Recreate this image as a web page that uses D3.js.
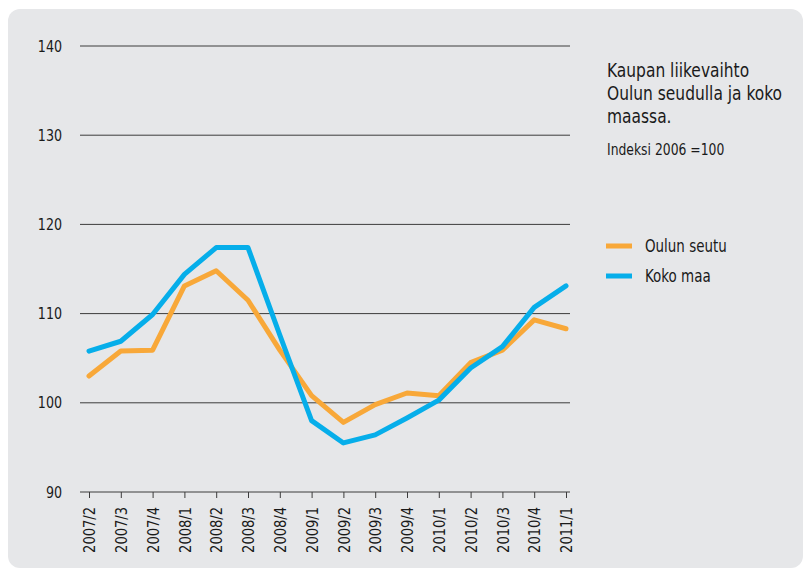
<!DOCTYPE html>
<html>
<head>
<meta charset="utf-8">
<script src="https://cdn.jsdelivr.net/npm/d3@7/dist/d3.min.js"></script>
<style>
  body { margin: 0; background: #fff; }
  svg text { font-family: "DejaVu Sans Condensed", "Roboto", sans-serif; fill: #1a1a1a; }
</style>
</head>
<body>
<script>
// quarters on the x axis
var quarters = ["2007/2","2007/3","2007/4","2008/1","2008/2","2008/3","2008/4",
    "2009/1","2009/2","2009/3","2009/4","2010/1","2010/2","2010/3","2010/4","2011/1"];
// Oulun seutu
var oulu = [103.0,105.8,105.9,113.1,114.8,111.5,105.9,100.8,97.8,99.8,101.1,100.8,104.5,105.9,109.3,108.3];
// Koko maa
var kokoMaa = [105.8,106.9,109.9,114.4,117.4,117.4,107.6,98.0,95.5,96.4,98.3,100.3,103.9,106.3,110.7,113.1];
var yTicks = [90,100,110,120,130,140];
var titleLines = ["Kaupan liikevaihto", "Oulun seudulla ja koko", "maassa."];

var width = 808, height = 574;
var narrow = 0.88; // squeeze text to look like a condensed face

var svg = d3.select("body").append("svg")
    .attr("width", width)
    .attr("height", height);

// grey panel
svg.append("rect")
    .attr("x", 8).attr("y", 9)
    .attr("width", 795).attr("height", 559)
    .attr("rx", 12)
    .attr("fill", "#e6e7e9");

var x = d3.scalePoint()
    .domain(quarters)
    .range([89, 566]);

var y = d3.scaleLinear()
    .domain([90, 140])
    .range([492, 46]);

// horizontal grid lines + labels
var grid = svg.append("g");
grid.selectAll("line")
    .data(yTicks)
    .enter().append("line")
    .attr("x1", 80).attr("x2", 570)
    .attr("y1", function(d) { return y(d); })
    .attr("y2", function(d) { return y(d); })
    .attr("stroke", "#3c3c3c")
    .attr("stroke-width", 1);

grid.selectAll("text")
    .data(yTicks)
    .enter().append("text")
    .attr("transform", function(d) { return "translate(62," + y(d) + ") scale(" + narrow + ",1)"; })
    .attr("dy", "0.35em")
    .attr("text-anchor", "end")
    .attr("font-size", 16)
    .text(function(d) { return d; });

// x axis ticks and rotated labels
var xAxis = svg.append("g")
    .attr("transform", "translate(0," + y(90) + ")")
    .call(d3.axisBottom(x).tickSize(6).tickFormat(function(d) { return d; }));
xAxis.select(".domain").remove();
xAxis.selectAll(".tick line").attr("stroke", "#3c3c3c");
xAxis.selectAll(".tick text")
    .attr("transform", "rotate(-90) scale(" + narrow + ",1)")
    .attr("x", -15 / narrow).attr("y", 0)
    .attr("dy", "0.35em")
    .attr("text-anchor", "end")
    .attr("font-size", 16.5)
    .attr("font-family", "DejaVu Sans Condensed, sans-serif")
    .attr("fill", "#1a1a1a");

// lines
var line = d3.line()
    .x(function(d, i) { return x(quarters[i]); })
    .y(function(d) { return y(d); });

var series = [
    { name: "Oulun seutu", values: oulu, color: "#f8a839" },
    { name: "Koko maa", values: kokoMaa, color: "#06aeea" }
];

svg.selectAll(".series")
    .data(series)
    .enter().append("path")
    .attr("class", "series")
    .attr("d", function(d) { return line(d.values); })
    .attr("fill", "none")
    .attr("stroke", function(d) { return d.color; })
    .attr("stroke-width", 5)
    .attr("stroke-linejoin", "round")
    .attr("stroke-linecap", "round");

// title
svg.append("g").selectAll("text")
    .data(titleLines)
    .enter().append("text")
    .attr("transform", function(d, i) { return "translate(607," + (77 + i * 23) + ") scale(0.86,1)"; })
    .attr("font-size", 20)
    .text(function(d) { return d; });

svg.append("text")
    .attr("transform", "translate(607,155) scale(0.86,1)")
    .attr("font-size", 16)
    .text("Indeksi 2006 =100");

// legend
var legend = svg.selectAll(".legend")
    .data(series)
    .enter().append("g")
    .attr("class", "legend")
    .attr("transform", function(d, i) { return "translate(606," + (246 + i * 30) + ")"; });

legend.append("rect")
    .attr("x", 0).attr("y", -2.5)
    .attr("width", 26).attr("height", 5)
    .attr("fill", function(d) { return d.color; });

legend.append("text")
    .attr("transform", "translate(39,0) scale(" + narrow + ",1)")
    .attr("dy", "0.35em")
    .attr("font-size", 17)
    .text(function(d) { return d.name; });
</script>
</body>
</html>
